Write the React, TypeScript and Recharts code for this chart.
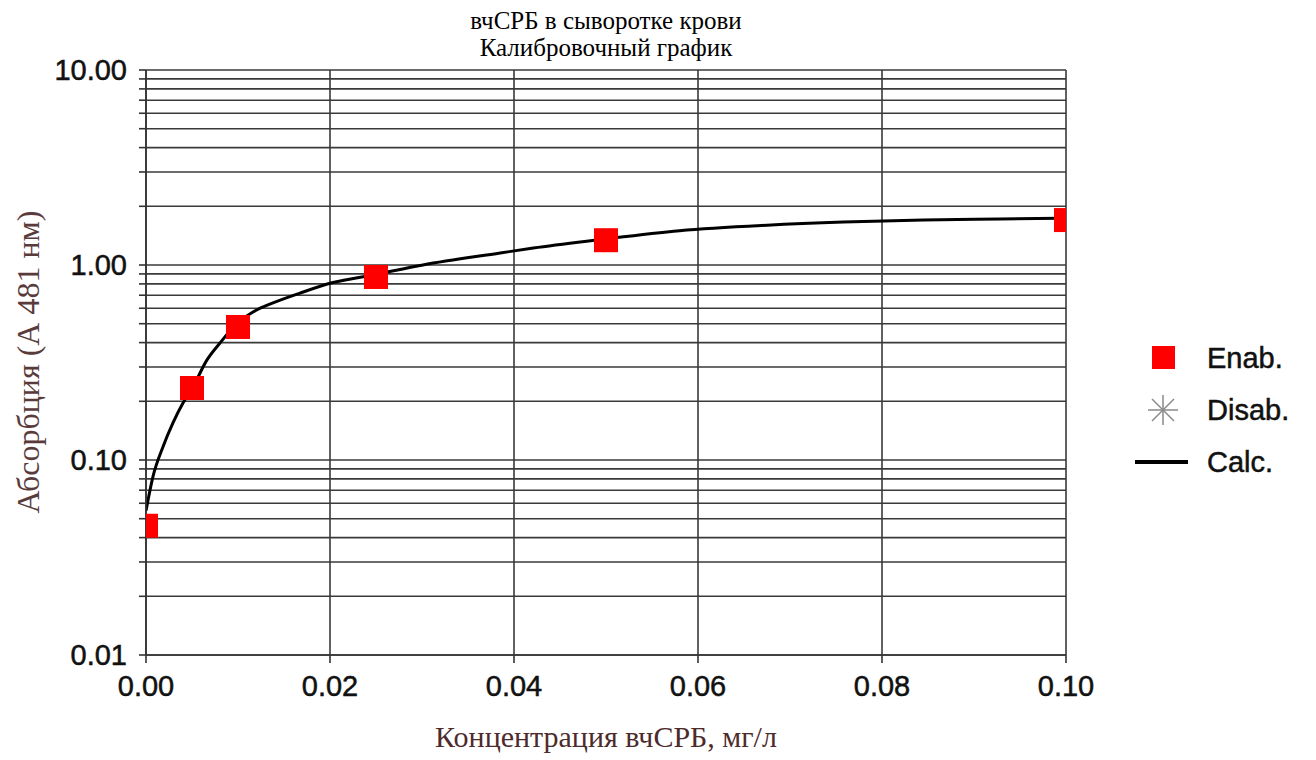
import React from "react";
import {
  ComposedChart,
  Line,
  Scatter,
  XAxis,
  YAxis,
  CartesianGrid,
} from "recharts";

// measured calibrators (Enab.)
const calibrators = [
  { x: 0.0, y: 0.046 },
  { x: 0.005, y: 0.234 },
  { x: 0.01, y: 0.481 },
  { x: 0.025, y: 0.868 },
  { x: 0.05, y: 1.34 },
  { x: 0.1, y: 1.7 },
];

// calculated curve (Calc.)
const calcX = [
  0.0, 0.00075, 0.00185, 0.00293, 0.00402, 0.005, 0.00663, 0.00804, 0.00989,
  0.01163, 0.0138, 0.01674, 0.02033, 0.02467, 0.0301, 0.0385, 0.0421, 0.049,
  0.058, 0.0675, 0.0758, 0.0845, 0.0928, 0.1,
];
const calcY = [
  0.055, 0.082, 0.117, 0.155, 0.196, 0.232, 0.326, 0.398, 0.5, 0.574, 0.639,
  0.718, 0.813, 0.889, 1.0, 1.152, 1.222, 1.343, 1.5, 1.6, 1.66, 1.7, 1.72,
  1.74,
];
const calcCurve = calcX.map((x, i) => ({ x, y: calcY[i] }));

const xTicks = [0, 0.02, 0.04, 0.06, 0.08, 0.1];
const yMajor = [0.01, 0.1, 1, 10];
const yTicks = [
  0.01, 0.02, 0.03, 0.04, 0.05, 0.06, 0.07, 0.08, 0.09,
  0.1, 0.2, 0.3, 0.4, 0.5, 0.6, 0.7, 0.8, 0.9,
  1, 2, 3, 4, 5, 6, 7, 8, 9, 10,
];

const legendItems = [
  { name: "Enab.", kind: "square" },
  { name: "Disab.", kind: "star" },
  { name: "Calc.", kind: "line" },
];

const sans = "Liberation Sans, Arial, sans-serif";
const serif = "Liberation Serif, 'Times New Roman', serif";
const tickFont = { fontFamily: sans, fontSize: 29, fill: "#111", stroke: "#111", strokeWidth: 0.5 };

const Square = (props: any) => {
  const { cx, cy } = props;
  if (cx == null || cy == null) return null;
  return <rect x={cx - 12} y={cy - 12} width={24} height={24} fill="#ff0000" />;
};

const LegendIcon = ({ kind }: { kind: string }) => {
  if (kind === "square")
    return <rect x={17} y={5} width={23} height={23} fill="#ff0000" />;
  if (kind === "star")
    return (
      <g stroke="#888" strokeWidth={1.5}>
        <line x1={28} y1={2} x2={28} y2={32} />
        <line x1={13} y1={17} x2={43} y2={17} />
        <line x1={17} y1={6} x2={39} y2={28} />
        <line x1={17} y1={28} x2={39} y2={6} />
      </g>
    );
  return <line x1={0} y1={17} x2={53} y2={17} stroke="#000" strokeWidth={4} />;
};

function ChartLegend() {
  return (
    <div style={{ position: "absolute", left: 1135, top: 332 }}>
      {legendItems.map((it) => (
        <div key={it.name} style={{ display: "flex", alignItems: "center", height: 52 }}>
          <svg width={56} height={34} style={{ marginRight: 16 }}>
            <LegendIcon kind={it.kind} />
          </svg>
          <span
            style={{
              fontFamily: sans,
              fontSize: 29,
              color: "#111",
              WebkitTextStroke: "0.5px #111",
            }}
          >
            {it.name}
          </span>
        </div>
      ))}
    </div>
  );
}

export default function App() {
  return (
    <div style={{ position: "absolute", left: 0, top: 0, width: 1316, height: 760, background: "#fff" }}>
      <div
        style={{
          position: "absolute",
          left: 146,
          width: 920,
          top: 7,
          textAlign: "center",
          fontFamily: serif,
          fontSize: 25,
          lineHeight: "27px",
          color: "#000",
        }}
      >
        вчСРБ в сыворотке крови
        <br />
        Калибровочный график
      </div>
      <div
        style={{
          position: "absolute",
          left: 146,
          width: 920,
          top: 720,
          textAlign: "center",
          fontFamily: serif,
          fontSize: 30,
          color: "#4d2b2b",
        }}
      >
        Концентрация вчСРБ, мг/л
      </div>
      <div
        style={{
          position: "absolute",
          left: 28,
          top: 362,
          transform: "translate(-50%, -50%) rotate(-90deg)",
          whiteSpace: "nowrap",
          fontFamily: serif,
          fontSize: 32,
          color: "#5a3b3b",
        }}
      >
        Абсорбция (А 481 нм)
      </div>
      <ChartLegend />
      <ComposedChart
        width={1316}
        height={760}
        margin={{ top: 70, right: 250, bottom: 55, left: 66 }}
        style={{ position: "absolute", left: 0, top: 0 }}
      >
        <CartesianGrid stroke="#3a3a3a" strokeWidth={1.6} />
        <XAxis
          type="number"
          dataKey="x"
          domain={[0, 0.1]}
          ticks={xTicks}
          tickFormatter={(v: number) => v.toFixed(2)}
          tick={tickFont}
          tickSize={8}
          tickMargin={12}
          height={50}
          stroke="#333"
          strokeWidth={1.6}
          allowDataOverflow
        />
        <YAxis
          type="number"
          dataKey="y"
          scale="log"
          domain={[0.01, 10]}
          ticks={yTicks}
          interval={0}
          tickFormatter={(v: number) => (yMajor.includes(v) ? v.toFixed(2) : "")}
          tick={tickFont}
          tickSize={7}
          tickMargin={12}
          width={80}
          stroke="#333"
          strokeWidth={1.6}
          allowDataOverflow
        />
        <Line
          data={calcCurve}
          dataKey="y"
          type="monotone"
          stroke="#000"
          strokeWidth={3}
          dot={false}
          activeDot={false}
          isAnimationActive={false}
        />
        <Scatter
          data={calibrators}
          dataKey="y"
          fill="#ff0000"
          shape={Square}
          isAnimationActive={false}
        />
      </ComposedChart>
    </div>
  );
}
